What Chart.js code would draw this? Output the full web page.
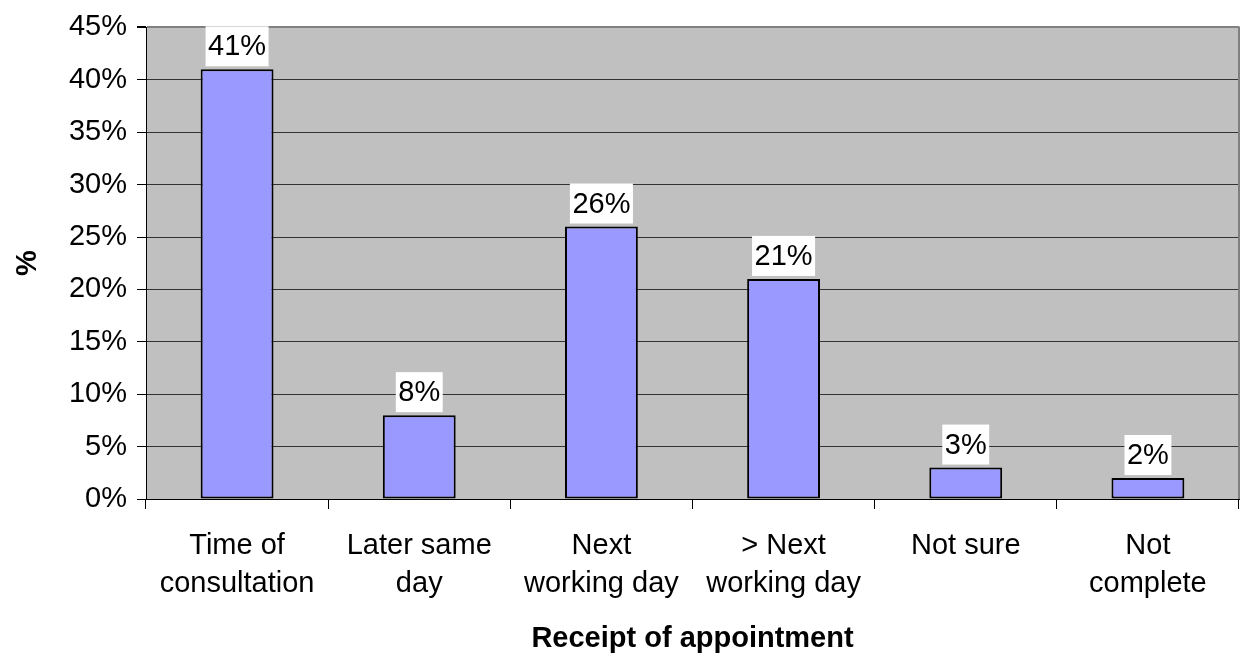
<!DOCTYPE html>
<html>
<head>
<meta charset="utf-8">
<script src="https://cdn.jsdelivr.net/npm/chart.js@4"></script>
<style>
  html, body { margin: 0; padding: 0; background: #ffffff; }
  #wrap { width: 1246px; height: 655px; }
</style>
</head>
<body>
<div id="wrap"><canvas id="c" width="1246" height="655"></canvas></div>
<script>
const categories = [
  ["Time of", "consultation"],
  ["Later same", "day"],
  ["Next", "working day"],
  ["> Next", "working day"],
  ["Not sure"],
  ["Not", "complete"]
];
const percentValues = [41, 8, 26, 21, 3, 2];
const yTickValues = [0, 5, 10, 15, 20, 25, 30, 35, 40, 45];

const FONT = "'Liberation Sans', Arial, sans-serif";

const plotBg = {
  id: 'plotBg',
  beforeDraw(chart) {
    const {ctx, chartArea: a} = chart;
    ctx.save();
    ctx.fillStyle = '#C0C0C0';
    ctx.fillRect(a.left, a.top, a.right - a.left, a.bottom - a.top);
    ctx.restore();
  },
  afterDraw(chart) {
    const {ctx, chartArea: a} = chart;
    ctx.save();
    ctx.strokeStyle = '#808080';
    ctx.lineWidth = 2;
    ctx.beginPath();
    ctx.moveTo(a.right, a.top - 1);
    ctx.lineTo(a.right, a.bottom);
    ctx.stroke();
    ctx.restore();
  }
};

const valueLabels = {
  id: 'valueLabels',
  afterDatasetsDraw(chart) {
    const {ctx} = chart;
    const meta = chart.getDatasetMeta(0);
    ctx.save();
    ctx.font = "29px " + FONT;
    ctx.textAlign = 'center';
    ctx.textBaseline = 'middle';
    meta.data.forEach((bar, i) => {
      const txt = percentValues[i] + '%';
      const w = ctx.measureText(txt).width + 5;
      const h = 40;
      const bottom = bar.y - 3;
      ctx.fillStyle = '#ffffff';
      ctx.fillRect(bar.x - w / 2, bottom - h, w, h);
      ctx.fillStyle = '#000000';
      ctx.fillText(txt, bar.x, bottom - h / 2 + 1);
    });
    ctx.restore();
  }
};

new Chart(document.getElementById('c'), {
  type: 'bar',
  data: {
    labels: categories,
    datasets: [{
      data: percentValues,
      backgroundColor: '#9999FF',
      borderColor: '#000000',
      borderWidth: 2,
      borderSkipped: false,
      categoryPercentage: 1.0,
      barPercentage: 0.4
    }]
  },
  options: {
    responsive: false,
    animation: false,
    devicePixelRatio: 1,
    layout: { padding: { top: 25, right: 7, left: 0, bottom: 0 } },
    plugins: {
      legend: { display: false },
      tooltip: { enabled: false }
    },
    scales: {
      x: {
        offset: true,
        grid: {
          offset: true,
          drawOnChartArea: false,
          drawTicks: true,
          tickLength: 10,
          color: '#000000',
          tickColor: '#000000'
        },
        border: { display: true, color: '#000000', width: 1 },
        ticks: {
          color: '#000000',
          padding: 18,
          maxRotation: 0,
          autoSkip: false,
          font: { family: FONT, size: 29, lineHeight: 1.31 }
        },
        title: {
          display: true,
          text: 'Receipt of appointment',
          color: '#000000',
          font: { family: FONT, size: 29, weight: 'bold', lineHeight: 1 },
          padding: { top: 0, bottom: 2 }
        },
        afterFit(scale) { scale.height = 156; }
      },
      y: {
        min: 0,
        max: 45,
        afterBuildTicks(scale) {
          scale.ticks = yTickValues.map(v => ({ value: v }));
        },
        grid: {
          color: (c) => (c.tick && c.tick.value === 45) ? '#808080' : '#333333',
          lineWidth: (c) => (c.tick && c.tick.value === 45) ? 2 : 1,
          tickColor: '#000000',
          tickLength: 9,
          drawTicks: true
        },
        border: { display: true, color: '#000000', width: 1 },
        ticks: {
          color: '#000000',
          padding: 10,
          font: { family: FONT, size: 29 },
          callback: (v) => v + '%'
        },
        title: {
          display: true,
          text: '%',
          color: '#000000',
          font: { family: FONT, size: 29, weight: 'bold', lineHeight: 1 },
          padding: { top: 13, bottom: 0 }
        },
        afterFit(scale) { scale.width = 146; }
      }
    }
  },
  plugins: [plotBg, valueLabels]
});
</script>
</body>
</html>
